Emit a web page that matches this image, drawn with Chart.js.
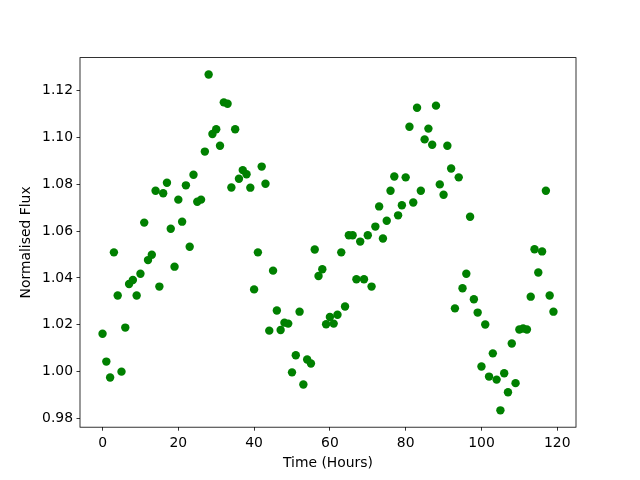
<!DOCTYPE html>
<html>
<head>
<meta charset="utf-8">
<script src="https://cdn.jsdelivr.net/npm/chart.js@4/dist/chart.umd.min.js"></script>
<style>
  html, body { margin: 0; padding: 0; background: #fff; }
  canvas { display: block; }
</style>
</head>
<body>
<canvas id="c" width="640" height="480"></canvas>
<script>
const timeHours = [
  0,1,2,3,4,5,6,7,8,9,10,11,12,13,14,15,16,17,18,19,
  20,21,22,23,24,25,26,27,28,29,30,31,32,33,34,35,36,37,38,39,
  40,41,42,43,44,45,46,47,48,49,50,51,52,53,54,55,56,57,58,59,
  60,61,62,63,64,65,66,67,68,69,70,71,72,73,74,75,76,77,78,79,
  80,81,82,83,84,85,86,87,88,89,90,91,92,93,94,95,96,97,98,99,
  100,101,102,103,104,105,106,107,108,109,110,111,112,113,114,115,116,117,118,119
];
const normalisedFlux = [
  1.0162,1.0043,0.9975,1.0509,1.0325,1.0000,1.0188,1.0374,1.0391,1.0325,
  1.0418,1.0636,1.0476,1.0499,1.0772,1.0363,1.0761,1.0806,1.0610,1.0448,
  1.0734,1.0640,1.0795,1.0533,1.0840,1.0725,1.0734,1.0939,1.1268,1.1014,
  1.1034,1.0964,1.1149,1.1143,1.0786,1.1034,1.0823,1.0860,1.0842,1.0785,
  1.0351,1.0509,1.0875,1.0802,1.0175,1.0431,1.0261,1.0178,1.0209,1.0205,
  0.9997,1.0070,1.0256,0.9945,1.0052,1.0035,1.0521,1.0408,1.0437,1.0202,
  1.0233,1.0205,1.0243,1.0509,1.0278,1.0582,1.0582,1.0394,1.0555,1.0394,
  1.0582,1.0363,1.0619,1.0705,1.0568,1.0644,1.0772,1.0833,1.0667,1.0710,
  1.0829,1.1045,1.0722,1.1126,1.0772,1.0991,1.1037,1.0968,1.1135,1.0799,
  1.0755,1.0964,1.0867,1.0270,1.0829,1.0356,1.0418,1.0661,1.0309,1.0252,
  1.0022,1.0201,0.9979,1.0078,0.9966,0.9835,0.9993,0.9912,1.0120,0.9951,
  1.0180,1.0184,1.0180,1.0320,1.0522,1.0423,1.0513,1.0772,1.0325,1.0256
];
const xTickValues = [0, 20, 40, 60, 80, 100, 120];
const yTickValues = [0.98, 1.00, 1.02, 1.04, 1.06, 1.08, 1.10, 1.12];
const xLabel = 'Time (Hours)';
const yLabel = 'Normalised Flux';

const points = timeHours.map((t, i) => ({ x: t, y: normalisedFlux[i] }));

Chart.defaults.font.family = '"DejaVu Sans", sans-serif';
Chart.defaults.font.size = 13.9;
Chart.defaults.color = '#000';

const framePlugin = {
  id: 'frame',
  afterDatasetsDraw(chart) {
    const a = chart.chartArea, ctx = chart.ctx;
    ctx.save();
    ctx.strokeStyle = '#000';
    ctx.lineWidth = 0.8;
    ctx.strokeRect(a.left, a.top, a.right - a.left, a.bottom - a.top);
    ctx.restore();
  }
};

new Chart(document.getElementById('c'), {
  type: 'scatter',
  data: {
    datasets: [{
      data: points,
      backgroundColor: '#008000',
      borderColor: '#008000',
      borderWidth: 0,
      pointRadius: 4.2,
      pointHoverRadius: 4.2
    }]
  },
  options: {
    responsive: false,
    animation: false,
    events: [],
    layout: { padding: { left: 0, top: 57.6, right: 64, bottom: 0 } },
    plugins: { legend: { display: false }, tooltip: { enabled: false } },
    scales: {
      x: {
        type: 'linear',
        min: -5.95,
        max: 124.95,
        afterBuildTicks(s) { s.ticks = xTickValues.map(v => ({ value: v })); },
        afterFit(s) { s.height = 480 - 427.2; },
        ticks: { padding: 4, maxRotation: 0, autoSkip: false, callback: v => String(v) },
        grid: { drawOnChartArea: false, drawTicks: true, tickLength: 3.5, tickWidth: 0.8, tickColor: '#000' },
        border: { display: false },
        title: { display: true, text: xLabel, padding: { top: 0, bottom: 8.5 } }
      },
      y: {
        type: 'linear',
        min: 0.9763,
        max: 1.1340,
        afterBuildTicks(s) { s.ticks = yTickValues.map(v => ({ value: v })); },
        afterFit(s) { s.width = 80; },
        ticks: { padding: 3.5, autoSkip: false, callback: v => Number(v).toFixed(2) },
        grid: { drawOnChartArea: false, drawTicks: true, tickLength: 3.5, tickWidth: 0.8, tickColor: '#000' },
        border: { display: false },
        title: { display: true, text: yLabel, padding: { top: 18.5, bottom: 0 } }
      }
    }
  },
  plugins: [framePlugin]
});
</script>
</body>
</html>
